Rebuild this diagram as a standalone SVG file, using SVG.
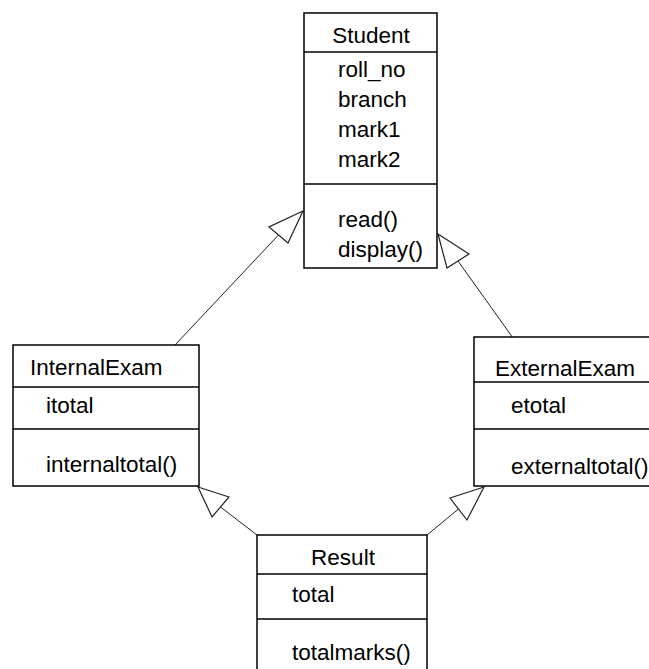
<svg xmlns="http://www.w3.org/2000/svg" width="649" height="669" viewBox="0 0 649 669">
<style>
.box{fill:#fff;stroke:#000;stroke-width:1.5}
.sep{stroke:#000;stroke-width:1.5}
.t{font-family:"Liberation Sans",Arial,sans-serif;font-size:22.5px;fill:#000}
.c{text-anchor:middle}
.edge{stroke:#222;stroke-width:1;fill:none}
.head{fill:#fff;stroke:#222;stroke-width:1.2;stroke-linejoin:miter}
</style>
<rect width="649" height="669" fill="#fff"/>
<g id="connectors">
<line class="edge" x1="175" y1="345" x2="278.5" y2="235"/>
<polygon class="head" points="303,211 269,227 288,243"/>
<line class="edge" x1="518" y1="345" x2="458" y2="261"/>
<polygon class="head" points="438,234 469,254 447,268"/>
<line class="edge" x1="257" y1="535" x2="220.5" y2="507"/>
<polygon class="head" points="198,487 229,497 212,517"/>
<line class="edge" x1="427" y1="535" x2="458.5" y2="509"/>
<polygon class="head" points="484,487 450,498 467,520"/>
</g>
<g id="Student">
<rect class="box" x="304" y="13" width="133" height="255"/>
<line class="sep" x1="304" y1="52" x2="437" y2="52"/>
<line class="sep" x1="304" y1="184" x2="437" y2="184"/>
<text class="t c" x="371" y="43">Student</text>
<text class="t" x="338" y="77">roll_no</text>
<text class="t" x="338" y="107">branch</text>
<text class="t" x="338" y="137">mark1</text>
<text class="t" x="338" y="167">mark2</text>
<text class="t" x="338" y="227">read()</text>
<text class="t" x="338" y="257">display()</text>
</g>
<g id="InternalExam">
<rect class="box" x="13" y="345" width="186" height="141"/>
<line class="sep" x1="13" y1="387" x2="199" y2="387"/>
<line class="sep" x1="13" y1="429" x2="199" y2="429"/>
<text class="t" x="30" y="375">InternalExam</text>
<text class="t" x="46" y="413">itotal</text>
<text class="t" x="46" y="472">internaltotal()</text>
</g>
<g id="ExternalExam">
<rect class="box" x="474" y="337" width="190" height="149"/>
<line class="sep" x1="474" y1="382" x2="664" y2="382"/>
<line class="sep" x1="474" y1="429" x2="664" y2="429"/>
<text class="t" x="495" y="376">ExternalExam</text>
<text class="t" x="511" y="413">etotal</text>
<text class="t" x="511" y="474">externaltotal()</text>
</g>
<g id="Result">
<rect class="box" x="257" y="535" width="170" height="150"/>
<line class="sep" x1="257" y1="574" x2="427" y2="574"/>
<line class="sep" x1="257" y1="619" x2="427" y2="619"/>
<text class="t c" x="343" y="565">Result</text>
<text class="t" x="292" y="602">total</text>
<text class="t" x="292" y="660">totalmarks()</text>
</g>
</svg>
